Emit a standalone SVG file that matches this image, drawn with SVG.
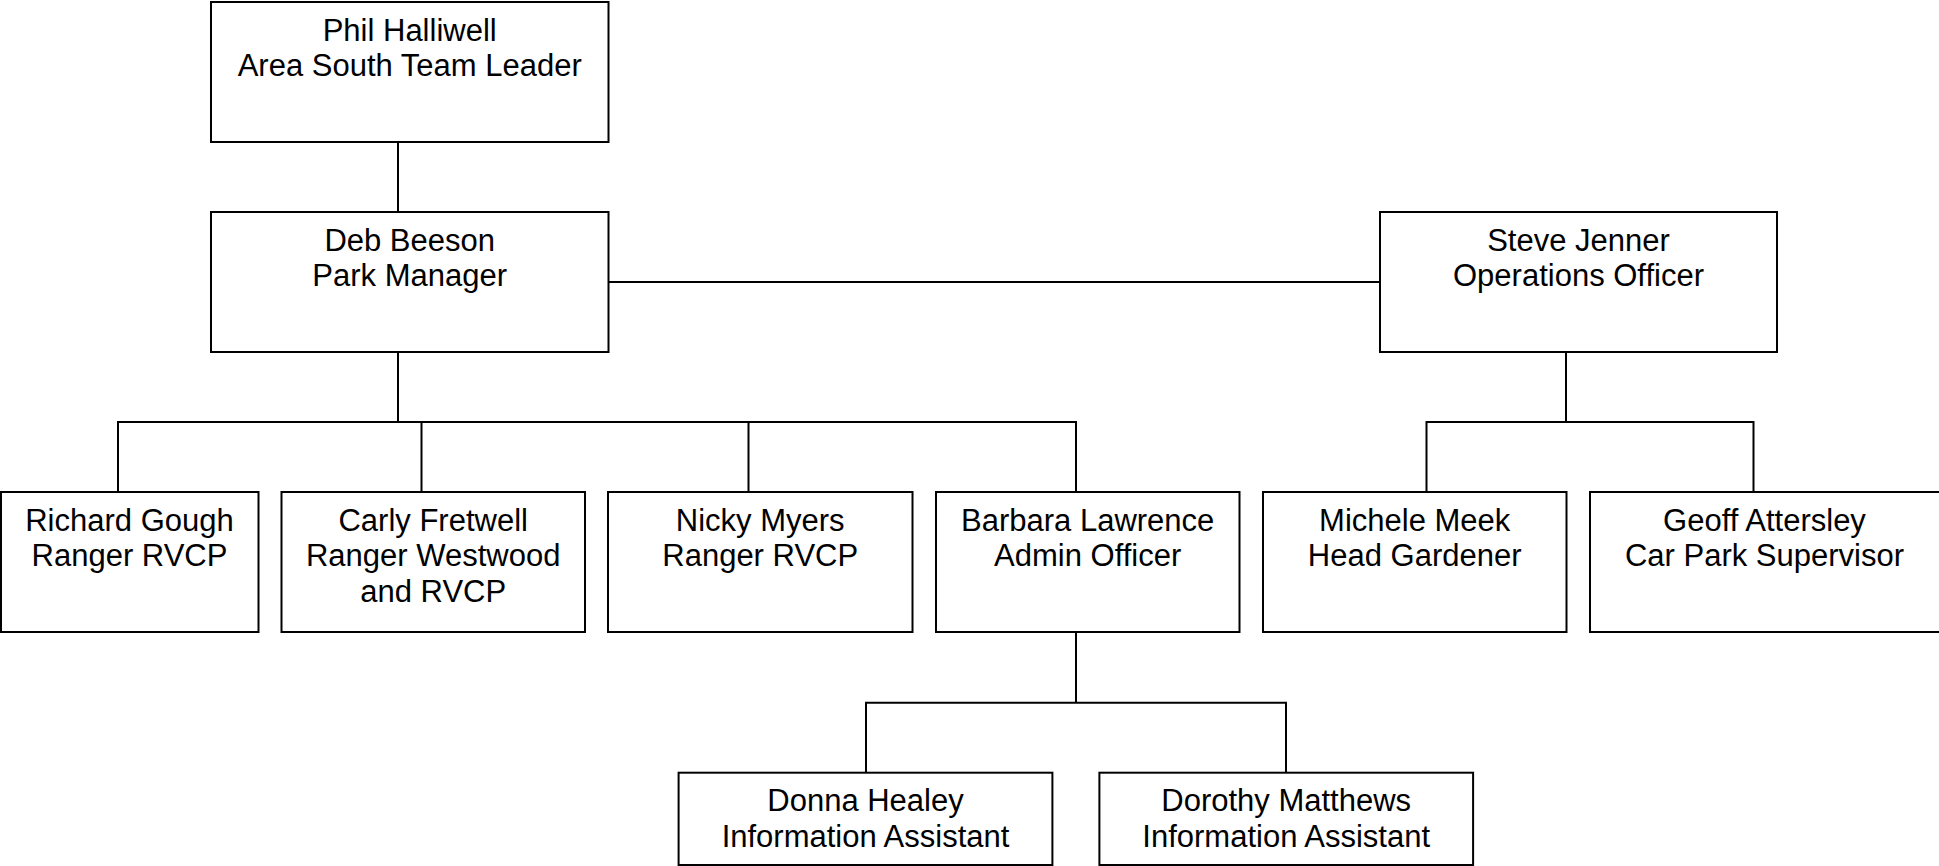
<svg xmlns="http://www.w3.org/2000/svg" width="1939" height="866" viewBox="0 0 1939 866">
<style>
.box{fill:#fff;stroke:#000;stroke-width:2}
.c{fill:none;stroke:#000;stroke-width:2}
text{font-family:"Liberation Sans",Arial,sans-serif;font-size:31px;fill:#000;text-anchor:middle}
</style>
<rect width="1939" height="866" fill="#fff"/>
<g id="connectors">
<path class="c" d="M398 142V212"/>
<path class="c" d="M608.5 282H1380"/>
<path class="c" d="M398 352V422M118 492V422H1076V492M421.5 422V492M748.5 422V492"/>
<path class="c" d="M1566 352V422M1426.5 492V422H1753.5V492"/>
<path class="c" d="M1076 632V702.7M866 772.7V702.7H1286V772.7"/>
</g>
<g id="phil"><rect class="box" x="211" y="2" width="397.5" height="140"/><text x="409.7" y="40.7">Phil Halliwell</text><text x="409.7" y="76.2">Area South Team Leader</text></g>
<g id="deb"><rect class="box" x="211" y="212" width="397.5" height="140"/><text x="409.7" y="250.7">Deb Beeson</text><text x="409.7" y="286.2">Park Manager</text></g>
<g id="steve"><rect class="box" x="1380" y="212" width="397" height="140"/><text x="1578.5" y="250.7">Steve Jenner</text><text x="1578.5" y="286.2">Operations Officer</text></g>
<g id="richard"><rect class="box" x="1" y="492" width="257.5" height="140"/><text x="129.5" y="530.7">Richard Gough</text><text x="129.5" y="566.2">Ranger RVCP</text></g>
<g id="carly"><rect class="box" x="281.5" y="492" width="303.5" height="140"/><text x="433.2" y="530.7">Carly Fretwell</text><text x="433.2" y="566.2">Ranger Westwood</text><text x="433.2" y="601.7">and RVCP</text></g>
<g id="nicky"><rect class="box" x="608" y="492" width="304.5" height="140"/><text x="760.2" y="530.7">Nicky Myers</text><text x="760.2" y="566.2">Ranger RVCP</text></g>
<g id="barbara"><rect class="box" x="936" y="492" width="303.5" height="140"/><text x="1087.7" y="530.7">Barbara Lawrence</text><text x="1087.7" y="566.2">Admin Officer</text></g>
<g id="michele"><rect class="box" x="1263" y="492" width="303.5" height="140"/><text x="1414.7" y="530.7">Michele Meek</text><text x="1414.7" y="566.2">Head Gardener</text></g>
<g id="geoff"><rect class="box" x="1590" y="492" width="360" height="140"/><text x="1764.5" y="530.7">Geoff Attersley</text><text x="1764.5" y="566.2">Car Park Supervisor</text></g>
<g id="donna"><rect class="box" x="678.6" y="772.7" width="373.8" height="92.3"/><text x="865.5" y="811.4">Donna Healey</text><text x="865.5" y="846.9">Information Assistant</text></g>
<g id="dorothy"><rect class="box" x="1099.4" y="772.7" width="373.7" height="92.3"/><text x="1286.2" y="811.4">Dorothy Matthews</text><text x="1286.2" y="846.9">Information Assistant</text></g>
</svg>
